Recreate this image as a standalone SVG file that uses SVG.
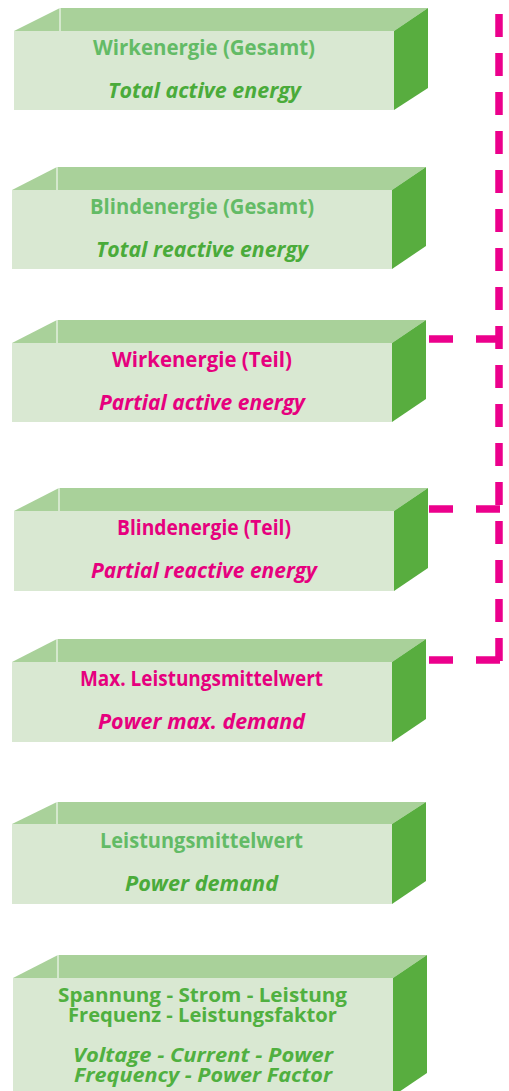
<svg xmlns="http://www.w3.org/2000/svg" width="509" height="1091" viewBox="0 0 509 1091">
<style>
.top{fill:#a9d19a}
.side{fill:#58ad3f}
.front{fill:#d9e8d2}
.edge{stroke:#ffffff;stroke-width:1}
text{font-family:"Open Sans","Noto Sans","Liberation Sans",sans-serif;font-weight:bold;font-size:22px}
.de{fill:#63bb66}
.en{fill:#4aab3a;font-style:italic}
.g7{fill:#50b040;font-size:20px}
.g7i{fill:#50b040;font-style:italic;font-size:20px}
.mde{fill:#e6007e}
.men{fill:#e6007e;font-style:italic}
.conn{stroke:#ec008c;stroke-width:7.5;fill:none}
</style>
<rect width="509" height="1091" fill="#ffffff"/>
<g id="box1">
<polygon class="top" points="14,31 60,8 428,8 394,31"/>
<polygon class="side" points="394,31 428,8 428,88 394,110"/>
<rect class="front" x="14" y="31" width="380" height="79"/>
<line class="edge" x1="60" y1="8" x2="60" y2="31"/>
<text class="de" x="93" y="55" textLength="222" lengthAdjust="spacingAndGlyphs">Wirkenergie (Gesamt)</text>
<text class="en" x="108" y="98" textLength="193" lengthAdjust="spacingAndGlyphs">Total active energy</text>
</g>
<g id="box2">
<polygon class="top" points="12,190 57,167 426,167 392,190"/>
<polygon class="side" points="392,190 426,167 426,246 392,269"/>
<rect class="front" x="12" y="190" width="380" height="79"/>
<line class="edge" x1="57" y1="167" x2="57" y2="190"/>
<text class="de" x="90" y="214" textLength="224" lengthAdjust="spacingAndGlyphs">Blindenergie (Gesamt)</text>
<text class="en" x="96" y="257" textLength="212" lengthAdjust="spacingAndGlyphs">Total reactive energy</text>
</g>
<g id="box3">
<polygon class="top" points="12,343 57,320 426,320 392,343"/>
<polygon class="side" points="392,343 426,320 426,399 392,422"/>
<rect class="front" x="12" y="343" width="380" height="79"/>
<line class="edge" x1="57" y1="320" x2="57" y2="343"/>
<text class="mde" x="112" y="367" textLength="180" lengthAdjust="spacingAndGlyphs">Wirkenergie (Teil)</text>
<text class="men" x="99" y="410" textLength="206" lengthAdjust="spacingAndGlyphs">Partial active energy</text>
</g>
<g id="box4">
<polygon class="top" points="14,511 59,488 428,488 394,511"/>
<polygon class="side" points="394,511 428,488 428,568 394,591"/>
<rect class="front" x="14" y="511" width="380" height="80"/>
<line class="edge" x1="59" y1="488" x2="59" y2="511"/>
<text class="mde" x="117" y="535" textLength="174" lengthAdjust="spacingAndGlyphs">Blindenergie (Teil)</text>
<text class="men" x="91" y="578" textLength="226" lengthAdjust="spacingAndGlyphs">Partial reactive energy</text>
</g>
<g id="box5">
<polygon class="top" points="12,662 57,639 426,639 392,662"/>
<polygon class="side" points="392,662 426,639 426,719 392,742"/>
<rect class="front" x="12" y="662" width="380" height="80"/>
<line class="edge" x1="57" y1="639" x2="57" y2="662"/>
<text class="mde" x="80" y="686" textLength="243" lengthAdjust="spacingAndGlyphs">Max. Leistungsmittelwert</text>
<text class="men" x="98" y="729" textLength="207" lengthAdjust="spacingAndGlyphs">Power max. demand</text>
</g>
<g id="box6">
<polygon class="top" points="12,824 57,802 426,802 392,824"/>
<polygon class="side" points="392,824 426,802 426,881 392,904"/>
<rect class="front" x="12" y="824" width="380" height="80"/>
<line class="edge" x1="57" y1="802" x2="57" y2="824"/>
<text class="de" x="100" y="848" textLength="203" lengthAdjust="spacingAndGlyphs">Leistungsmittelwert</text>
<text class="en" x="125" y="891" textLength="153" lengthAdjust="spacingAndGlyphs">Power demand</text>
</g>
<g id="box7">
<polygon class="top" points="13,978 58,955 427,955 393,978"/>
<polygon class="side" points="393,978 427,955 427,1073 393,1096"/>
<rect class="front" x="13" y="978" width="380" height="118"/>
<line class="edge" x1="58" y1="955" x2="58" y2="978"/>
<text class="g7" x="58" y="1002" textLength="289" lengthAdjust="spacingAndGlyphs">Spannung - Strom - Leistung</text>
<text class="g7" x="68" y="1022" textLength="269" lengthAdjust="spacingAndGlyphs">Frequenz - Leistungsfaktor</text>
<text class="g7i" x="73" y="1062" textLength="260" lengthAdjust="spacingAndGlyphs">Voltage - Current - Power</text>
<text class="g7i" x="74" y="1082" textLength="258" lengthAdjust="spacingAndGlyphs">Frequency - Power Factor</text>
</g>
<g id="connectors">
<line class="conn" x1="499" y1="14" x2="499" y2="663" stroke-dasharray="23 16"/>
<line class="conn" x1="429" y1="339" x2="503" y2="339" stroke-dasharray="24 23"/>
<line class="conn" x1="429" y1="509" x2="503" y2="509" stroke-dasharray="24 23"/>
<line class="conn" x1="429" y1="660" x2="503" y2="660" stroke-dasharray="24 23"/>
</g>
</svg>
